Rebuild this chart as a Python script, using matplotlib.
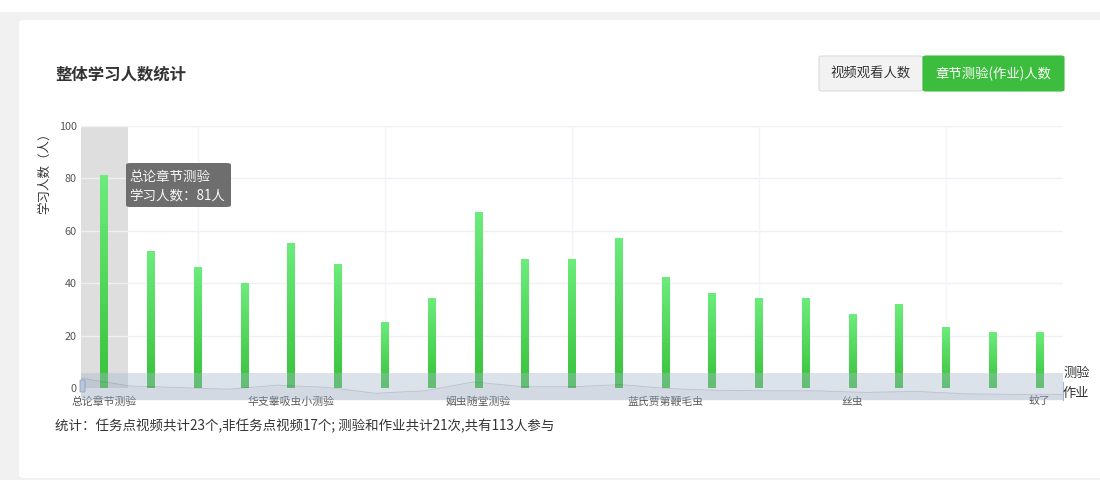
import numpy as np
import matplotlib
matplotlib.use("Agg")
import matplotlib.pyplot as plt
from matplotlib.patches import FancyBboxPatch, Rectangle
from matplotlib.colors import LinearSegmentedColormap

plt.rcParams['font.family'] = ['Noto Sans CJK SC', 'DejaVu Sans']

# 数据
categories = [
    "总论章节测验", "测验2", "测验3", "测验4", "华支睾吸虫小测验", "测验6", "测验7",
    "测验8", "姻虫随堂测验", "测验10", "测验11", "测验12", "蓝氏贾第鞭毛虫", "测验14",
    "测验15", "测验16", "丝虫", "测验18", "测验19", "测验20", "蚊了",
]
learners = [81, 52, 46, 40, 55, 47, 25, 34, 67, 49, 49, 57, 42, 36, 34, 34, 28, 32, 23, 21, 21]
label_idx = [0, 4, 8, 12, 16, 20]
yticks = [0, 20, 40, 60, 80, 100]
vgrid_idx = [2, 6, 10, 14, 18]

W, H = 1100, 480


def fx(x):
    return x / W


def fy(y):
    return 1 - y / H


fig = plt.figure(figsize=(11, 4.8), dpi=100, facecolor='white')

# 背景与卡片
fig.patches.append(Rectangle((0, 0), 1, fy(12), transform=fig.transFigure,
                             facecolor='#f1f1f1', edgecolor='none', zorder=-10))
fig.patches.append(FancyBboxPatch((fx(19), fy(478)), fx(1110) - fx(19), fy(20) - fy(478),
                                  boxstyle='round,pad=0,rounding_size=0.006',
                                  transform=fig.transFigure, facecolor='white',
                                  edgecolor='none', zorder=-9))

# 标题
fig.text(fx(55), fy(75), "整体学习人数统计", fontsize=11.8, fontweight='bold',
         color='#333333', va='center', ha='left')

# 按钮
fig.patches.append(FancyBboxPatch((fx(819), fy(91)), fx(923) - fx(819), fy(56) - fy(91),
                                  boxstyle='round,pad=0,rounding_size=0.003',
                                  transform=fig.transFigure, facecolor='#f2f2f2',
                                  edgecolor='#dcdcdc', lw=0.8))
fig.text(fx(871), fy(74), "视频观看人数", fontsize=9.6, color='#333333', ha='center', va='center')
fig.patches.append(FancyBboxPatch((fx(923), fy(91)), fx(1064) - fx(923), fy(56) - fy(91),
                                  boxstyle='round,pad=0,rounding_size=0.003',
                                  transform=fig.transFigure, facecolor='#3dbd3d',
                                  edgecolor='#3dbd3d', lw=0.8))
fig.text(fx(993.5), fy(74), "章节测验(作业)人数", fontsize=9.6, color='white', ha='center', va='center')

# 主图
ax = fig.add_axes([fx(81), fy(388), fx(1063) - fx(81), fy(126) - fy(388)])
ax.set_facecolor('none')
x = np.arange(len(learners))

ax.axvspan(-0.5, 0.5, color='#dedede', zorder=0, lw=0)
for yv in yticks[1:]:
    ax.axhline(yv, color='#edf1f6', lw=1, zorder=0.5)
for i in vgrid_idx:
    ax.axvline(i, color='#f2f4f7', lw=1, zorder=0.5)

grad_cmap = LinearSegmentedColormap.from_list('g', ['#38c23a', '#6cec7c'])
grad = np.linspace(0, 1, 256).reshape(-1, 1)
bars = ax.bar(x, learners, width=0.17, facecolor='none', edgecolor='none', zorder=2)
for rect in bars:
    x0, w, h = rect.get_x(), rect.get_width(), rect.get_height()
    ax.imshow(grad, cmap=grad_cmap, origin='lower', aspect='auto',
              extent=[x0, x0 + w, 0, h], zorder=2)

ax.set_xlim(-0.5, len(learners) - 0.5)
ax.set_ylim(0, 100)
ax.set_yticks(yticks)
ax.set_yticklabels([str(v) for v in yticks], fontsize=7.8, color='#555555')
ax.set_xticks(label_idx)
ax.set_xticklabels([categories[i] for i in label_idx], fontsize=7.8, color='#555555')
ax.tick_params(axis='both', length=0, pad=3)
ax.tick_params(axis='x', pad=6)
for s in ax.spines.values():
    s.set_visible(False)

fig.text(fx(45), fy(126), "学习人数（人）", rotation=90, fontsize=9, color='#333333',
         ha='center', va='top')

# 提示框
fig.patches.append(FancyBboxPatch((fx(126), fy(207)), fx(231) - fx(126), fy(163) - fy(207),
                                  boxstyle='round,pad=0,rounding_size=0.004',
                                  transform=fig.transFigure, facecolor='#6e6e6e',
                                  edgecolor='none', zorder=5))
fig.text(fx(129), fy(177), categories[0], fontsize=9.7, color='#f7f7f7', va='center', zorder=6)
fig.text(fx(129), fy(196), "学习人数：%d人" % learners[0], fontsize=9.7, color='#f7f7f7',
         va='center', zorder=6)

# 数据缩放条
zax = fig.add_axes([fx(81), fy(400), fx(1063) - fx(81), fy(373) - fy(400)], zorder=3)
zax.set_facecolor('none')
zax.fill_between(x, learners, color='#2f4554', alpha=0.07, lw=0)
zax.plot(x, learners, color='#2f4554', alpha=0.2, lw=0.6)
zax.axvspan(0, len(learners) - 1, color='#a7b7cc', alpha=0.4, lw=0)
zax.set_xlim(0, len(learners) - 1)
zax.set_ylim(0, 100)
zax.axis('off')

fig.patches.append(FancyBboxPatch((fx(80), fy(392)), fx(85) - fx(80), fy(380) - fy(392),
                                  boxstyle='round,pad=0,rounding_size=0.001',
                                  transform=fig.transFigure, facecolor='#b9c7da',
                                  edgecolor='#8ea3c0', lw=0.6, zorder=6))
fig.lines.append(plt.Line2D([fx(1063), fx(1063)], [fy(400), fy(382)],
                            transform=fig.transFigure, color='#a7b7cc', lw=0.8))

# 图例文字
fig.text(fx(1063), fy(373), "测验", fontsize=9.5, color='#333333', va='center', ha='left')
fig.text(fx(1063), fy(393), "作业", fontsize=9.5, color='#333333', va='center', ha='left')

# 统计说明
fig.text(fx(55), fy(426), "统计：任务点视频共计23个,非任务点视频17个; 测验和作业共计21次,共有113人参与",
         fontsize=9.7, color='#333333', va='center', ha='left')

fig.savefig("out.png", dpi=100, facecolor=fig.get_facecolor())
